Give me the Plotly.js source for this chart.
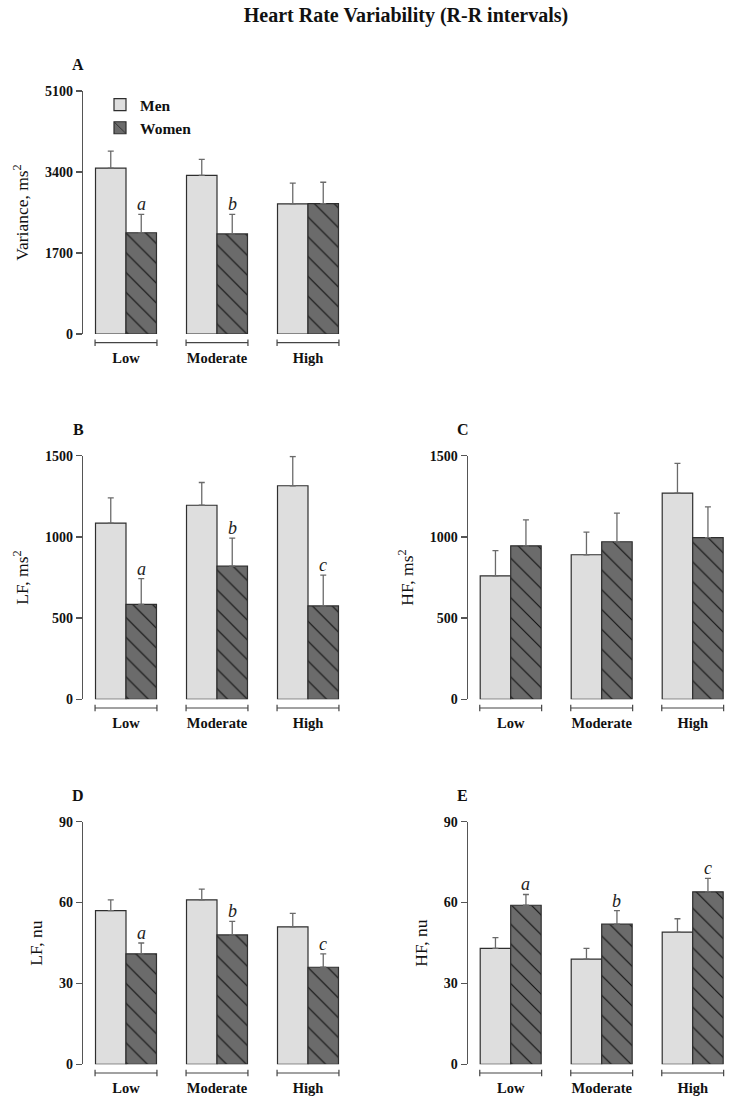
<!DOCTYPE html>
<html>
<head>
<meta charset="utf-8">
<script src="https://cdn.plot.ly/plotly-3.0.1.min.js"></script>
<style>html,body{margin:0;padding:0;background:#fff;}#chart{width:732px;height:1103px;}</style>
</head>
<body>
<div id="chart"></div>
<script>
// ---- data ----
const categories = ['Low', 'Moderate', 'High'];

const varianceMen = [3480, 3330, 2730];
const varianceMenErr = [360, 335, 435];
const varianceWomen = [2125, 2100, 2735];
const varianceWomenErr = [385, 410, 450];
const varianceLetters = ['a', 'b', ''];

const lfMen = [1085, 1195, 1315];
const lfMenErr = [155, 140, 180];
const lfWomen = [585, 820, 575];
const lfWomenErr = [158, 172, 190];
const lfLetters = ['a', 'b', 'c'];

const hfMen = [760, 890, 1270];
const hfMenErr = [155, 140, 183];
const hfWomen = [945, 970, 995];
const hfWomenErr = [160, 177, 190];
const hfLetters = ['', '', ''];

const lfnuMen = [57, 61, 51];
const lfnuMenErr = [4, 4, 5];
const lfnuWomen = [41, 48, 36];
const lfnuWomenErr = [4, 5, 5];
const lfnuLetters = ['a', 'b', 'c'];

const hfnuMen = [43, 39, 49];
const hfnuMenErr = [4, 4, 5];
const hfnuWomen = [59, 52, 64];
const hfnuWomenErr = [4, 5, 5];
const hfnuLetters = ['a', 'b', 'c'];

const yTickVals = {
  A: [0, 1700, 3400, 5100],
  B: [0, 500, 1000, 1500],
  C: [0, 500, 1000, 1500],
  D: [0, 30, 60, 90],
  E: [0, 30, 60, 90]
};

// ---- style ----
const SERIF = 'Liberation Serif, Times New Roman, DejaVu Serif, serif';
const W = 732, H = 1103;
const MEN_COLOR = '#dedede';
const WOMEN_COLOR = '#6b6b6b';
const EDGE = '#2e2e2e';
const ERR_COLOR = '#6a6a6a';
const X_RANGE = [-0.4725, 2.4];
const BARGAP = 0.33;

const leftDom = [83 / W, 344.4 / W];
const rightDom = [467.7 / W, 729.1 / W];
function yDom(topPx, botPx) { return [1 - botPx / H, 1 - topPx / H]; }
const panels = [
  {key: 'A', ax: '', xd: leftDom, yd: yDom(91, 334), men: varianceMen, menErr: varianceMenErr, women: varianceWomen, womenErr: varianceWomenErr, letters: varianceLetters, title: 'Variance, ms<sup>2</sup>', max: 5100},
  {key: 'B', ax: '2', xd: leftDom, yd: yDom(455.7, 699.3), men: lfMen, menErr: lfMenErr, women: lfWomen, womenErr: lfWomenErr, letters: lfLetters, title: 'LF, ms<sup>2</sup>', max: 1500},
  {key: 'C', ax: '3', xd: rightDom, yd: yDom(455.7, 699.3), men: hfMen, menErr: hfMenErr, women: hfWomen, womenErr: hfWomenErr, letters: hfLetters, title: 'HF, ms<sup>2</sup>', max: 1500},
  {key: 'D', ax: '4', xd: leftDom, yd: yDom(821.7, 1064.3), men: lfnuMen, menErr: lfnuMenErr, women: lfnuWomen, womenErr: lfnuWomenErr, letters: lfnuLetters, title: 'LF, nu', max: 90},
  {key: 'E', ax: '5', xd: rightDom, yd: yDom(821.7, 1064.3), men: hfnuMen, menErr: hfnuMenErr, women: hfnuWomen, womenErr: hfnuWomenErr, letters: hfnuLetters, title: 'HF, nu', max: 90}
];

const traces = [];
const layout = {
  width: W, height: H,
  margin: {l: 0, r: 0, t: 0, b: 0},
  paper_bgcolor: '#fff', plot_bgcolor: 'rgba(0,0,0,0)',
  barmode: 'group', bargap: BARGAP, bargroupgap: 0,
  font: {family: SERIF, color: '#1a1a1a'},
  title: {
    text: '<b>Heart Rate Variability (R-R intervals)</b>',
    font: {family: SERIF, size: 20, color: '#111'},
    x: 406 / W, xanchor: 'center', xref: 'paper',
    y: 1 - 15 / H, yanchor: 'middle', yref: 'paper'
  },
  showlegend: true,
  legend: {
    x: 100 / W, xanchor: 'left', y: 1 - 88 / H, yanchor: 'top',
    bgcolor: 'rgba(0,0,0,0)', borderwidth: 0,
    font: {family: SERIF, size: 15.5, color: '#111'},
    tracegroupgap: 0, itemwidth: 30
  },
  shapes: [], annotations: []
};

panels.forEach((p, pi) => {
  const xa = 'x' + p.ax, ya = 'y' + p.ax;
  traces.push({
    type: 'bar', name: '<b>Men</b>', x: categories, y: p.men,
    xaxis: xa, yaxis: ya, legendgroup: 'men', showlegend: pi === 0,
    marker: {color: MEN_COLOR, line: {color: EDGE, width: 1.2}},
    error_y: {type: 'data', array: p.menErr, arrayminus: p.menErr.map(() => 0), symmetric: false, color: ERR_COLOR, thickness: 1.3, width: 3},
    hoverinfo: 'skip'
  });
  traces.push({
    type: 'bar', name: '<b>Women</b>', x: categories, y: p.women,
    xaxis: xa, yaxis: ya, legendgroup: 'women', showlegend: pi === 0,
    marker: {color: WOMEN_COLOR, line: {color: EDGE, width: 1.2},
             pattern: {shape: '\\', fgcolor: '#111', bgcolor: WOMEN_COLOR, size: 14, solidity: 0.08, fillmode: 'replace'}},
    error_y: {type: 'data', array: p.womenErr, arrayminus: p.womenErr.map(() => 0), symmetric: false, color: ERR_COLOR, thickness: 1.3, width: 3},
    hoverinfo: 'skip'
  });

  layout['xaxis' + p.ax] = {
    domain: p.xd, anchor: ya, type: 'category', range: X_RANGE,
    showline: false, showgrid: false, zeroline: false, ticks: '',
    tickfont: {family: SERIF, size: 14.5, color: '#111'},
    tickvals: categories, ticktext: categories.map(c => '<b>' + c + '</b>'),
    ticklabelstandoff: 13, fixedrange: true
  };
  layout['yaxis' + p.ax] = {
    domain: p.yd, anchor: xa, range: [0, p.max],
    showline: true, linecolor: '#555', linewidth: 1.2,
    ticks: 'outside', ticklen: 6, tickcolor: '#555', tickwidth: 1.2,
    tickvals: yTickVals[p.key], ticktext: yTickVals[p.key].map(v => '<b>' + v + '</b>'),
    tickfont: {family: SERIF, size: 14, color: '#111'},
    showgrid: false, zeroline: false, fixedrange: true,
    title: {text: p.title, font: {family: SERIF, size: 17.5, color: '#111'}, standoff: 11}
  };

  // panel letter
  layout.annotations.push({
    xref: 'paper', yref: 'paper',
    x: (p.xd[0] * W - 5) / W, y: p.yd[1] + 26 / H,
    xanchor: 'center', yanchor: 'middle', showarrow: false,
    text: '<b>' + p.key + '</b>', font: {family: SERIF, size: 16, color: '#111'}
  });

  // significance letters above women error bars
  p.letters.forEach((L, i) => {
    if (!L) return;
    layout.annotations.push({
      xref: xa, yref: ya, x: i + (1 - BARGAP) / 4, y: p.women[i] + p.womenErr[i],
      xanchor: 'center', yanchor: 'bottom', showarrow: false, yshift: -2,
      text: '<i>' + L + '</i>', font: {family: SERIF, size: 18, color: '#222'}
    });
  });

  // group brackets under each category
  const half = (1 - BARGAP) / 2 + 0.005;
  const yb = p.yd[0] - 8.7 / H;
  const tk = 3.2 / H;
  categories.forEach((c, i) => {
    const ln = {color: '#444', width: 1.2};
    layout.shapes.push({type: 'line', xref: xa, yref: 'paper', x0: i - half, x1: i + half, y0: yb, y1: yb, line: ln});
    layout.shapes.push({type: 'line', xref: xa, yref: 'paper', x0: i - half, x1: i - half, y0: yb - tk, y1: yb + tk, line: ln});
    layout.shapes.push({type: 'line', xref: xa, yref: 'paper', x0: i + half, x1: i + half, y0: yb - tk, y1: yb + tk, line: ln});
  });
});

Plotly.newPlot('chart', traces, layout, {staticPlot: true, displayModeBar: false});
</script>
</body>
</html>
